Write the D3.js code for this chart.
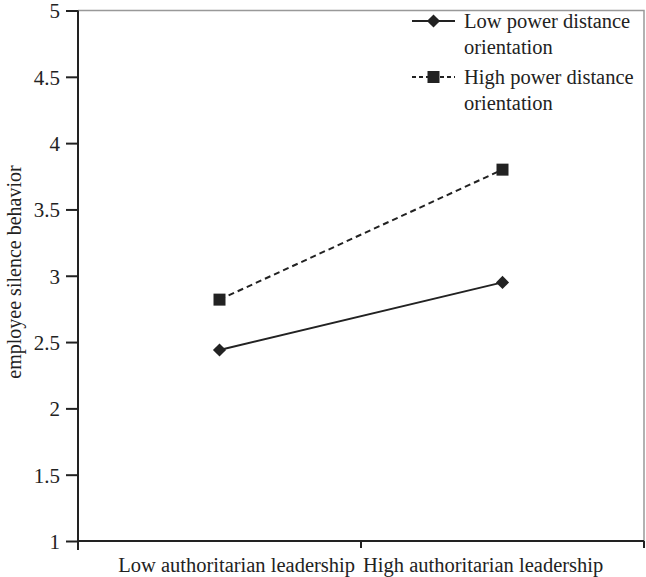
<!DOCTYPE html>
<html><head><meta charset="utf-8">
<script src="https://cdn.jsdelivr.net/npm/d3@7"></script>
<style>body{margin:0;background:#fff}svg{display:block}text{font-family:"Liberation Serif","Times New Roman",serif !important;fill:#222}</style>
</head><body><svg id="c" width="646" height="577"></svg>
<script>
const categories = ["Low authoritarian leadership", "High authoritarian leadership"];
const seriesNames = ["Low power distance orientation", "High power distance orientation"];
const lowPD = [2.44, 2.95];
const highPD = [2.82, 3.80];
const yTicks = [1, 1.5, 2, 2.5, 3, 3.5, 4, 4.5, 5];
const yTitle = "employee silence behavior";

const svg = d3.select("#c");
const L = 78, R = 644, T = 10.5, B = 541;
const x = d3.scaleBand().domain(categories).range([L, R]);
const y = d3.scaleLinear().domain([1, 5]).range([B, T]);

// plot border (top & right, grey)
svg.append("path").attr("d", `M${L},${T}H${R}V${B}`).attr("fill","none").attr("stroke","#999").attr("stroke-width",1.5);

// y axis
const ya = svg.append("g").attr("transform",`translate(${L},0)`)
  .call(d3.axisLeft(y).tickValues(yTicks).tickFormat(d3.format("")).tickSize(12).tickPadding(6));
ya.attr("font-family", null);
ya.select(".domain").attr("stroke","#222").attr("stroke-width",2).attr("d",`M0,${T}V${B+9}`);
ya.selectAll(".tick line").attr("stroke","#222").attr("stroke-width",2);
ya.selectAll("text").style("font-size","21px").attr("fill","#222").attr("dy","0.35em");

// x axis
const xa = svg.append("g").attr("transform",`translate(0,${B})`)
  .call(d3.axisBottom(x).tickSize(0).tickPadding(16));
xa.attr("font-family", null);
xa.select(".domain").attr("stroke","#222").attr("stroke-width",2).attr("d",`M${L},0H${R}`);
const mid = x(categories[1]);
xa.selectAll(".tick text").style("font-size","20.5px").attr("fill","#222").attr("dy","0.71em")
  .attr("text-anchor",(d,i)=> i===0 ? "end" : "start")
  .attr("x",(d,i)=> i===0 ? (mid - 6) - (x(d)+x.bandwidth()/2) : (mid + 2) - (x(d)+x.bandwidth()/2));
const bounds = [mid, R];
svg.selectAll(".xb").data(bounds).enter().append("line")
  .attr("x1",d=>d).attr("x2",d=>d).attr("y1",B).attr("y2",B+7)
  .attr("stroke","#222").attr("stroke-width",2);

// y title
svg.append("text").attr("transform",`translate(14,272) rotate(-90)`)
  .attr("text-anchor","middle").attr("dy","0.35em").style("font-size","20px").text(yTitle);

const cx = d => x(d) + x.bandwidth()/2;
const line = d3.line().x((d,i)=>cx(categories[i])).y(d=>y(d));

// low PD: solid + diamonds
svg.append("path").datum(lowPD).attr("d",line).attr("fill","none").attr("stroke","#222").attr("stroke-width",2);
svg.selectAll(".dm").data(lowPD).enter().append("path")
  .attr("d", d3.symbol(d3.symbolDiamond2, 110))
  .attr("transform",(d,i)=>`translate(${cx(categories[i])},${y(d)})`)
  .attr("fill","#222");
// high PD: dashed + squares
svg.append("path").datum(highPD).attr("d",line).attr("fill","none").attr("stroke","#222").attr("stroke-width",2).attr("stroke-dasharray","6,4");
svg.selectAll(".sq").data(highPD).enter().append("rect")
  .attr("x",(d,i)=>cx(categories[i])-6).attr("y",d=>y(d)-6).attr("width",12).attr("height",12).attr("fill","#222");

// legend
const lg = svg.append("g");
const lx1 = 412, lx2 = 455, tx = 464;
const entries = [
  {lines:["Low power distance","orientation"], y:21, dash:null, marker:"diamond"},
  {lines:["High power distance","orientation"], y:77, dash:"4,3", marker:"square"}
];
entries.forEach((e,k)=>{
  lg.append("line").attr("x1",lx1).attr("x2",lx2).attr("y1",e.y).attr("y2",e.y)
    .attr("stroke","#222").attr("stroke-width",2).attr("stroke-dasharray",e.dash);
  const mx = (lx1+lx2)/2;
  if (e.marker==="diamond") lg.append("path").attr("d",d3.symbol(d3.symbolDiamond2,110)).attr("transform",`translate(${mx},${e.y})`).attr("fill","#222");
  else lg.append("rect").attr("x",mx-6).attr("y",e.y-6).attr("width",12).attr("height",12).attr("fill","#222");
  e.lines.forEach((t,j)=>{
    lg.append("text").attr("x",tx).attr("y",e.y + j*26).attr("dy","0.35em").style("font-size","20.5px").text(t);
  });
});
</script></body></html>
